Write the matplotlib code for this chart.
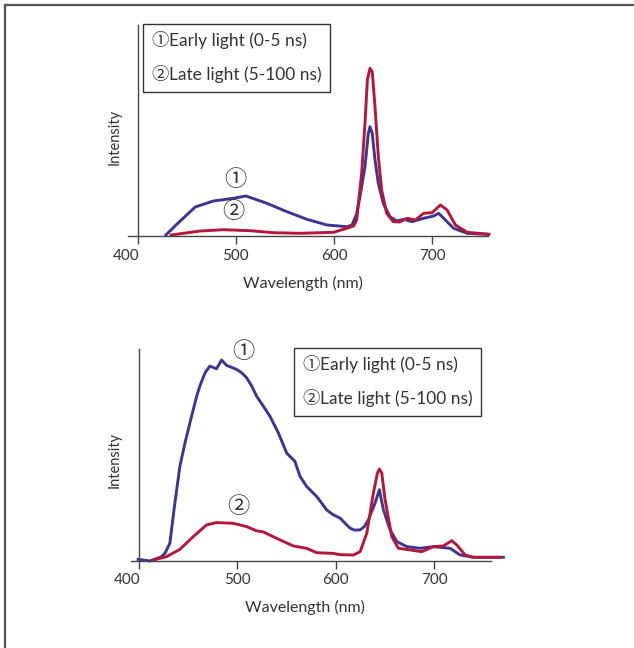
import matplotlib.pyplot as plt
from matplotlib.lines import Line2D
from matplotlib.transforms import ScaledTranslation
from matplotlib.offsetbox import AnchoredOffsetbox, HPacker, VPacker, TextArea

plt.rcParams['font.family'] = ['Lato', 'DejaVu Sans']

# top chart: wavelength (nm) and intensity (arbitrary units)
top_early_x = [428.6, 440, 458.5, 477, 497.6, 510.2, 531.6, 552, 572.4, 592.9, 613.3, 618.4,
               623, 626.5, 631.6, 635, 636.7, 639, 641.8, 645.2, 650.2, 657.1, 664, 671, 679.6,
               691.4, 701.6, 706.7, 711.8, 722, 735.7, 757.8]
top_early_y = [1, 12, 29, 35, 37.7, 40, 32.7, 24.3, 16.7, 11, 9.3, 11,
               22, 39.3, 69.3, 102.7, 109.3, 102.7, 76, 52.7, 32.7, 19.3, 15, 16.7, 14.3,
               17.7, 20, 22.7, 17.7, 7.7, 2.7, 1.7]
top_late_x = [434, 463.6, 487.4, 514.6, 538.4, 565.6, 599.6, 613, 620, 623.1, 628.2, 631.6,
              634, 636.7, 639, 641.8, 645.2, 648.6, 653.7, 660.4, 667, 674.5, 683, 691.4, 700,
              708.5, 715.3, 723.8, 735.7, 757.8]
top_late_y = [1, 5, 6.3, 5.3, 3.3, 2.7, 3.7, 7.7, 10, 16, 62.7, 112.7,
              156, 167.7, 164.3, 129.3, 79.3, 46, 22.7, 14.3, 14, 17.7, 16, 22.7, 23.3,
              31, 26, 11, 3.7, 1.7]

# bottom chart
bot_early_x = [399, 410.9, 422.8, 426.2, 431.2, 436, 441.4, 446.6, 451.6, 458.5, 461.7, 467,
               471.9, 478.7, 483.8, 488.9, 499, 504.3, 509.3, 514.5, 519.4, 526.3, 533, 541.6,
               550, 558.4, 563.6, 570.3, 580.5, 585.7, 590.6, 597, 604.3, 614.5, 619, 624.7,
               629, 633.1, 639.9, 644.3, 648.4, 655.2, 662, 672.2, 685.7, 699.2, 716.2, 726.4,
               739.9, 770.4]
bot_early_y = [1.3, -0.3, 4, 7.3, 17.3, 55, 94, 117.3, 137.3, 164, 174, 187.3,
               194, 191.3, 200, 194.7, 190.7, 187.3, 182.3, 174, 164, 154, 144, 127.3,
               107.3, 99, 84, 74, 64, 57.3, 50.7, 46, 42.4, 32.4, 30.5, 30.7,
               34, 40.7, 57.4, 70.7, 50.7, 30.7, 19, 14, 12.4, 14, 12.4, 5.7,
               3.4, 3.4]
bot_late_x = [414.2, 427.8, 441.4, 455, 468.6, 478.7, 495.6, 509.3, 519.4, 526.2, 539.8, 556.7,
              570.3, 580.5, 597.4, 604.3, 617.9, 624.7, 631.5, 638.2, 642.3, 644.3, 646.7,
              650.1, 656.9, 663.6, 675.5, 687.4, 699.2, 709.4, 717.9, 723, 731.5, 739.9, 767.1]
bot_late_y = [0.7, 4, 11.3, 24, 35.7, 38, 37.3, 34, 29.7, 28.7, 22.3, 14.7,
              12.3, 8, 7.3, 6, 5.7, 9, 27.4, 67.4, 87.4, 91.4, 87.4,
              60.7, 24, 12.4, 10.7, 9, 14, 14.7, 20, 15.7, 5.7, 3.4, 3.4]

xticks = [400, 500, 600, 700]
marks = ['\u2460', '\u2461']
legend_labels = ['Early light (0-5 ns)', 'Late light (5-100 ns)']

BLUE = '#3d3590'
RED = '#b5173b'
DARK = '#333333'
W, H = 634, 648
CIRC = ['Noto Sans CJK JP', 'DejaVu Sans']

fig = plt.figure(figsize=(W / 100, H / 100), dpi=100)


def px_axes(left, right, bottom, top):
    return fig.add_axes([left / W, 1 - bottom / H, (right - left) / W, (bottom - top) / H])


def style(ax, xmin, xmax, spine_end):
    ax.set_xlim(xmin, xmax)
    ax.set_ylim(0, 211)
    for s in ['top', 'right']:
        ax.spines[s].set_visible(False)
    for s in ['left', 'bottom']:
        ax.spines[s].set_color('#444444')
        ax.spines[s].set_linewidth(1.0)
    ax.spines['left'].set_position(('data', 400))
    ax.spines['bottom'].set_bounds(xmin, spine_end)
    ax.set_yticks([])
    ax.set_xticks(xticks)
    ax.tick_params(axis='x', direction='out', length=6, width=1, color='#444444',
                   labelsize=11, labelcolor=DARK, pad=3)
    lbl = ax.get_xticklabels()[0]
    lbl.set_transform(lbl.get_transform() + ScaledTranslation(-0.12, 0, fig.dpi_scale_trans))
    ax.patch.set_visible(False)


def legend(ax, left, top):
    rows = []
    for m, lab in zip(marks, legend_labels):
        rows.append(HPacker(children=[
            TextArea(m, textprops=dict(family=CIRC, size=12.5, color=DARK)),
            TextArea(lab, textprops=dict(family='Lato', size=12.5, color=DARK))],
            pad=0, sep=0, align='baseline'))
    box = VPacker(children=rows, pad=0, sep=11, align='left')
    ab = AnchoredOffsetbox(loc='upper left', child=box, pad=0.6, borderpad=0,
                           bbox_to_anchor=(left / W, 1 - top / H),
                           bbox_transform=fig.transFigure, frameon=True)
    ab.patch.set_boxstyle('square', pad=0)
    ab.patch.set_edgecolor(DARK)
    ab.patch.set_linewidth(1.0)
    ax.add_artist(ab)


def mark(ax, x, y, s):
    ax.text(x, y, s, ha='center', va='center', fontsize=16, color=DARK, family=CIRC)


# top panel
ax1 = px_axes(128, 488, 236, 25)
style(ax1, 390, 757, 757)
ax1.plot(top_early_x, top_early_y, color=BLUE, lw=2.1, clip_on=False, solid_joinstyle='round')
ax1.plot(top_late_x, top_late_y, color=RED, lw=2.1, clip_on=False, solid_joinstyle='round')
mark(ax1, 499, 56, marks[0])
mark(ax1, 497, 25, marks[1])
legend(ax1, 143, 24)
fig.text(303 / W, 1 - 283 / H, 'Wavelength (nm)', ha='center', va='center', fontsize=11.5, color=DARK)
fig.text(115 / W, 1 - 137 / H, 'Intensity', ha='center', va='center', rotation=90, fontsize=10.5, color=DARK)

# bottom panel
ax2 = px_axes(130.7, 503, 560.7, 349)
style(ax2, 391.4, 770, 757.7)
ax2.plot(bot_early_x, bot_early_y, color=BLUE, lw=2.1, clip_on=False, solid_joinstyle='round')
ax2.plot(bot_late_x, bot_late_y, color=RED, lw=2.1, clip_on=False, solid_joinstyle='round')
mark(ax2, 505.6, 208.7, marks[0])
mark(ax2, 500.6, 53.7, marks[1])
legend(ax2, 294, 348)
fig.text(305 / W, 1 - 607 / H, 'Wavelength (nm)', ha='center', va='center', fontsize=11.5, color=DARK)
fig.text(115 / W, 1 - 460 / H, 'Intensity', ha='center', va='center', rotation=90, fontsize=10.5, color=DARK)

# outer frame (top and left edges)
fig.add_artist(Line2D([5 / W, 1], [1 - 5 / H, 1 - 5 / H], color='#555555', lw=1.6))
fig.add_artist(Line2D([5 / W, 5 / W], [0, 1 - 5 / H], color='#555555', lw=1.6))

fig.savefig('out.png', dpi=100)
